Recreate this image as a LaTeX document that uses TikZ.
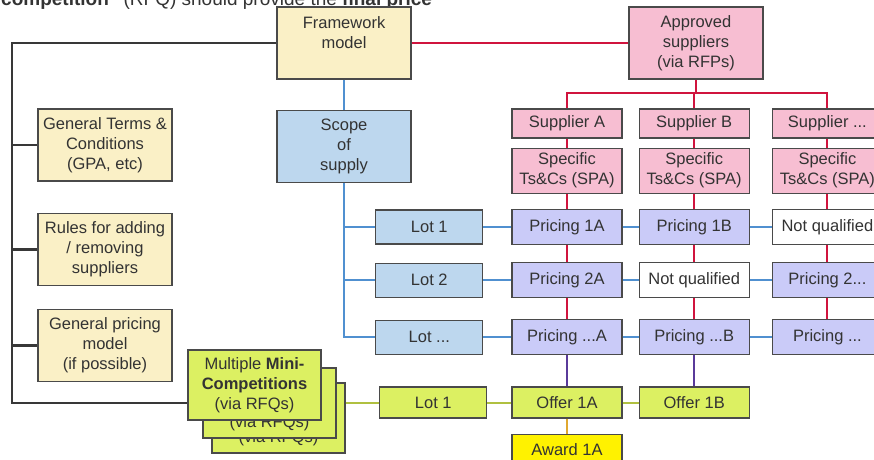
\documentclass[tikz,border=0pt]{standalone}
\usepackage{fontspec}
\setmainfont{Liberation Sans}
\usetikzlibrary{positioning}
\definecolor{cream}{HTML}{FAF0C6}
\definecolor{rose}{HTML}{F7BED2}
\definecolor{sky}{HTML}{BDD7EE}
\definecolor{lavender}{HTML}{CACBF8}
\definecolor{lime}{HTML}{DCF062}
\definecolor{awardyellow}{HTML}{FFF200}
\definecolor{boxline}{HTML}{4A4A4A}
\definecolor{txt}{HTML}{333333}
\definecolor{darkline}{HTML}{383838}
\definecolor{redline}{HTML}{D0143E}
\definecolor{blueline}{HTML}{5090D0}
\definecolor{greenline}{HTML}{B0C040}
\definecolor{purpleline}{HTML}{5A3A9A}
\definecolor{goldline}{HTML}{E0A830}
\tikzset{
    mybox/.style={rectangle, draw=boxline, line width=1.2pt, text=txt, inner sep=1pt, align=center, font=\fontsize{16.5}{20}\selectfont},
    bigbox/.style={mybox, minimum width=134pt, minimum height=72pt},
    minibox/.style={mybox, fill=lime, minimum width=133pt, minimum height=70pt},
    cellbox/.style={mybox, minimum width=110pt, minimum height=35pt},
    supbox/.style={cellbox, fill=rose, minimum height=29pt},
    spabox/.style={cellbox, fill=rose, minimum height=45pt},
    lotbox/.style={mybox, fill=sky, minimum width=107pt, minimum height=34pt},
    price/.style={cellbox, fill=lavender},
    noq/.style={cellbox, fill=white},
    offer/.style={cellbox, fill=lime, minimum height=31pt},
    blk/.style={line width=2.6pt, draw=darkline},
    redl/.style={line width=2pt, draw=redline},
    bluel/.style={line width=2pt, draw=blueline},
    grnl/.style={line width=2pt, draw=greenline},
    purl/.style={line width=2pt, draw=purpleline},
    goldl/.style={line width=1.5pt, draw=goldline}
}
\begin{document}
\begin{tikzpicture}[x=1pt, y=-1pt]
    \useasboundingbox (0,0) rectangle (874,459);
    \node[anchor=base west, inner sep=0pt, text=txt, font=\fontsize{19}{22}\selectfont] (headline) at (1,5.5)
      {\textbf{competition”} (RFQ) should provide the \textbf{final price}};

    % framework and general parts
    \node[bigbox, fill=cream] (framework) at (344,43) {Framework\\model\\~};
    \node[bigbox, fill=cream] (terms) at (105,145) {General Terms \&\\Conditions\\(GPA, etc)};
    \node[bigbox, fill=cream, below=31pt of terms] (rules) {Rules for adding\\/ removing\\suppliers};
    \node[bigbox, fill=cream, below=23pt of rules] (pricingmodel) {General pricing\\model\\(if possible)};
    \node[bigbox, fill=sky, below=30pt of framework] (scope) {Scope\\of\\supply};
    \node[bigbox, fill=rose] (approved) at (696,43) {Approved\\suppliers\\(via RFPs)};

    % suppliers, column A
    \node[supbox] (supA) at (567,123.5) {Supplier A};
    \node[spabox, below=9pt of supA] (spaA) {Specific\\Ts\&Cs (SPA)};
    \node[price, below=15pt of spaA] (p1A) {Pricing 1A};
    \node[price, below=17pt of p1A] (p2A) {Pricing 2A};
    \node[price, below=21pt of p2A] (pnA) {Pricing ...A};
    \node[offer, below=31pt of pnA] (offA) {Offer 1A};
    \node[offer, fill=awardyellow, below=15pt of offA] (award) {Award 1A};
    % column B
    \node[supbox, right=16pt of supA] (supB) {Supplier B};
    \node[spabox, right=16pt of spaA] (spaB) {Specific\\Ts\&Cs (SPA)};
    \node[price, right=16pt of p1A] (p1B) {Pricing 1B};
    \node[noq, right=16pt of p2A] (p2B) {Not qualified};
    \node[price, right=16pt of pnA] (pnB) {Pricing ...B};
    \node[offer, right=16pt of offA] (offB) {Offer 1B};
    % column C
    \node[supbox, right=22pt of supB] (supC) {Supplier ...};
    \node[spabox, right=22pt of spaB] (spaC) {Specific\\Ts\&Cs (SPA)};
    \node[noq, right=22pt of p1B] (p1C) {Not qualified};
    \node[price, right=22pt of p2B] (p2C) {Pricing 2...};
    \node[price, right=22pt of pnB] (pnC) {Pricing ...};

    % lots
    \node[lotbox, left=28pt of p1A] (lot1) {Lot 1};
    \node[lotbox, left=28pt of p2A] (lot2) {Lot 2};
    \node[lotbox, left=28pt of pnA] (lotn) {Lot ...};
    \node[lotbox, fill=lime, minimum height=31pt, left=24pt of offA] (lotg) {Lot 1};

    % mini-competitions, back to front
    \node[minibox] (mini3) at (278.5,418) {Multiple \textbf{Mini-}\\\textbf{Competitions}\\(via RFQs)};
    \node[minibox] (mini2) at (269.5,403) {Multiple \textbf{Mini-}\\\textbf{Competitions}\\(via RFQs)};
    \node[minibox] (mini) at (254.5,385) {Multiple \textbf{Mini-}\\\textbf{Competitions}\\(via RFQs)};

    % black bus on the left
    \coordinate (bus) at (12,403);
    \draw[blk] (framework.west) -| (bus) -- (bus -| mini.west);
    \foreach \n in {terms,rules,pricingmodel}
        \draw[blk] (\n.west) -- (\n.west -| bus);

    % red links
    \coordinate (redbus) at (696,93);
    \draw[redl] (framework.east) -- (approved.west);
    \draw[redl] (approved.south) -- (redbus);
    \draw[redl] (supA.north) |- (redbus) -| (supC.north);
    \draw[redl] (supB.north) -- (supB.north |- redbus);
    \foreach \c in {A,B,C} {
        \draw[redl] (sup\c.south) -- (spa\c.north);
        \draw[redl] (spa\c.south) -- (p1\c.north);
        \draw[redl] (p1\c.south) -- (p2\c.north);
        \draw[redl] (p2\c.south) -- (pn\c.north);
    }
    \draw[purl] (pnA.south) -- (offA.north);
    \draw[purl] (pnB.south) -- (offB.north);
    \draw[goldl] (offA.south) -- (award.north);

    % blue links
    \draw[bluel] (framework.south) -- (scope.north);
    \draw[bluel] (scope.south) |- (lotn.west);
    \foreach \r in {1,2}
        \draw[bluel] (lot\r.west) -- (lot\r.west -| scope.south);
    \foreach \r in {1,2,n} {
        \draw[bluel] (lot\r.east) -- (p\r A.west);
        \draw[bluel] (p\r A.east) -- (p\r B.west);
        \draw[bluel] (p\r B.east) -- (p\r C.west);
    }

    % green links
    \draw[grnl] (mini3.east |- lotg.west) -- (lotg.west);
    \draw[grnl] (lotg.east) -- (offA.west);
    \draw[grnl] (offA.east) -- (offB.west);
\end{tikzpicture}
\end{document}
